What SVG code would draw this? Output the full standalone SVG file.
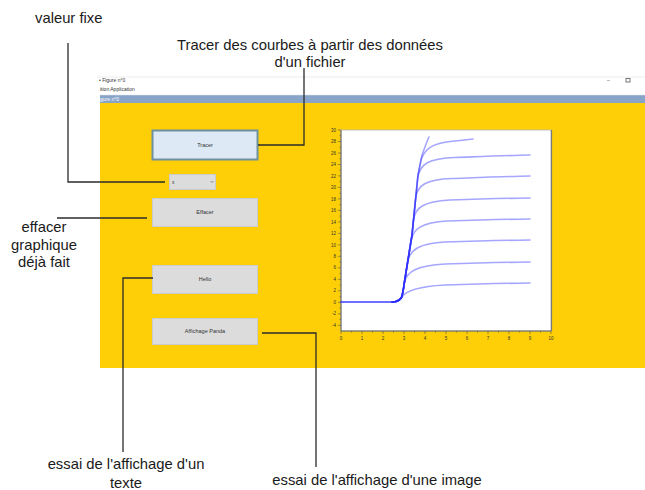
<svg xmlns="http://www.w3.org/2000/svg" width="645" height="490" viewBox="0 0 645 490">
<style>
.ann{font-family:"Liberation Sans",Arial,sans-serif;font-size:14.8px;fill:#1a1a1a}
.tiny{font-family:"Liberation Sans",Arial,sans-serif;font-size:5px;fill:#333}
.btn{fill:#dcdcdc;stroke:#cbcbcb;stroke-width:1}
.btxt{font-family:"Liberation Sans",Arial,sans-serif;font-size:5.5px;fill:#333;text-anchor:middle}
.conn{fill:none;stroke:#2b2b2b;stroke-width:1.3}
.crv{fill:none;stroke:#2a2aff;stroke-opacity:0.42;stroke-width:1.6;stroke-linejoin:round;stroke-linecap:round}
.ylab{font-family:"Liberation Sans",Arial,sans-serif;font-size:4.5px;fill:#333;text-anchor:end}
.xlab{font-family:"Liberation Sans",Arial,sans-serif;font-size:4.5px;fill:#333;text-anchor:middle}
</style>
<rect width="645" height="490" fill="#ffffff"/>
<g id="window">
  <line x1="97" y1="77" x2="645" y2="77" stroke="#ececec" stroke-width="1"/>
  <text x="99" y="82" class="tiny">• Figure n°0</text>
  <text x="100" y="91" class="tiny">ition  Application</text>
  <text x="607" y="82" class="tiny">–</text>
  <rect x="626" y="78.5" width="4" height="3.5" fill="none" stroke="#555" stroke-width="0.8"/>
  <rect x="100" y="95" width="545" height="8" fill="#88a4c9"/>
  <line x1="100" y1="95.3" x2="645" y2="95.3" stroke="#b8c6d8" stroke-width="0.6"/>
  <text x="100" y="101" class="tiny" style="fill:#ffffff">gure n°0</text>
  <rect x="100" y="103" width="545" height="265" fill="#fecf06"/>
</g>
<g id="btn-tracer">
  <rect x="152.5" y="130.5" width="105" height="29" fill="#dde9f5" stroke="#6e909f" stroke-width="2"/>
  <text x="205" y="147" class="btxt">Tracer</text>
</g>
<g id="combo">
  <rect x="169.5" y="174.5" width="46" height="15" class="btn"/>
  <text x="172" y="184" class="tiny">x</text>
  <path d="M210.5,181 L212,182.5 L213.5,181" fill="none" stroke="#555" stroke-width="0.6"/>
</g>
<g id="btn-effacer">
  <rect x="152.5" y="198.5" width="105" height="28" class="btn"/>
  <text x="205" y="214" class="btxt">Effacer</text>
</g>
<g id="btn-hello">
  <rect x="152.5" y="265.5" width="105" height="28" class="btn"/>
  <text x="205" y="281" class="btxt">Hello</text>
</g>
<g id="btn-panda">
  <rect x="152.5" y="318.5" width="105" height="26" class="btn"/>
  <text x="205" y="333" class="btxt">Affichage Panda</text>
</g>
<g id="plot">
  <rect x="341" y="130" width="210" height="201" fill="#ffffff" stroke="#b5b5b5" stroke-width="0.8"/>
  <line x1="551.5" y1="130" x2="551.5" y2="331" stroke="#7a7a7a" stroke-width="1.2"/>
  <path d="M341,130 V331 H551" fill="none" stroke="#555" stroke-width="0.9"/>
  <path fill="none" stroke="#555" stroke-width="0.6" d="M338,130 H341 M338,141.5 H341 M338,153 H341 M338,164.5 H341 M338,175.9 H341 M338,187.4 H341 M338,198.9 H341 M338,210.4 H341 M338,221.9 H341 M338,233.4 H341 M338,244.9 H341 M338,256.3 H341 M338,267.8 H341 M338,279.3 H341 M338,290.8 H341 M338,302.3 H341 M338,313.8 H341 M338,325.3 H341 M339.5,135.7 H341 M339.5,147.2 H341 M339.5,158.7 H341 M339.5,170.2 H341 M339.5,181.7 H341 M339.5,193.2 H341 M339.5,204.7 H341 M339.5,216.1 H341 M339.5,227.6 H341 M339.5,239.1 H341 M339.5,250.6 H341 M339.5,262.1 H341 M339.5,273.6 H341 M339.5,285.1 H341 M339.5,296.6 H341 M339.5,308 H341 M339.5,319.5 H341 M341,331 V334 M362,331 V334 M383,331 V334 M404,331 V334 M425,331 V334 M446,331 V334 M467,331 V334 M488,331 V334 M509,331 V334 M530,331 V334 M551,331 V334 M351.5,331 V332.5 M372.5,331 V332.5 M393.5,331 V332.5 M414.5,331 V332.5 M435.5,331 V332.5 M456.5,331 V332.5 M477.5,331 V332.5 M498.5,331 V332.5 M519.5,331 V332.5 M540.5,331 V332.5"/>
  <g>
    <text x="336" y="131.6" class="ylab">30</text>
    <text x="336" y="143.1" class="ylab">28</text>
    <text x="336" y="154.6" class="ylab">26</text>
    <text x="336" y="166.1" class="ylab">24</text>
    <text x="336" y="177.5" class="ylab">22</text>
    <text x="336" y="189" class="ylab">20</text>
    <text x="336" y="200.5" class="ylab">18</text>
    <text x="336" y="212" class="ylab">16</text>
    <text x="336" y="223.5" class="ylab">14</text>
    <text x="336" y="235" class="ylab">12</text>
    <text x="336" y="246.5" class="ylab">10</text>
    <text x="336" y="257.9" class="ylab">8</text>
    <text x="336" y="269.4" class="ylab">6</text>
    <text x="336" y="280.9" class="ylab">4</text>
    <text x="336" y="292.4" class="ylab">2</text>
    <text x="336" y="303.9" class="ylab">0</text>
    <text x="336" y="315.4" class="ylab">-2</text>
    <text x="336" y="326.9" class="ylab">-4</text>
  </g>
  <g>
    <text x="341" y="339.5" class="xlab">0</text>
    <text x="362" y="339.5" class="xlab">1</text>
    <text x="383" y="339.5" class="xlab">2</text>
    <text x="404" y="339.5" class="xlab">3</text>
    <text x="425" y="339.5" class="xlab">4</text>
    <text x="446" y="339.5" class="xlab">5</text>
    <text x="467" y="339.5" class="xlab">6</text>
    <text x="488" y="339.5" class="xlab">7</text>
    <text x="509" y="339.5" class="xlab">8</text>
    <text x="530" y="339.5" class="xlab">9</text>
    <text x="551" y="339.5" class="xlab">10</text>
  </g>
  <g id="curves">
    <path class="crv" d="M341,302 H392 C397,302 399.5,300.5 401.5,297.5 C405,291.5 417,286.5 445,285 C475,284 505,283.3 530,283"/>
    <path class="crv" d="M341,302 H392 C397,302 399.5,300.5 401.5,297.5 C403,293 403.5,289 404.3,283 C406.6,271 418,265.5 445,264 C475,263 505,262.3 530,262"/>
    <path class="crv" d="M341,302 H392 C397,302 399.5,300.5 401.5,297.5 C403,293 403.5,289 404.3,283 L407.6,262 C409.9,249 420,243.5 445,242 C475,241 505,240.3 530,240"/>
    <path class="crv" d="M392,302 C397,302 399.5,300.5 401.5,297.5 C403,293 403.5,289 404.3,283 L411,241 C413,228.5 422,222.5 447,221 C477,220 505,219.3 530,219"/>
    <path class="crv" d="M392,302 C397,302 399.5,300.5 401.5,297.5 C403,293 403.5,289 404.3,283 L412,235 L413.5,220 C415.2,207 424,201.5 450,200 C478,199 505,198.3 530,198"/>
    <path class="crv" d="M392,302 C397,302 399.5,300.5 401.5,297.5 C403,293 403.5,289 404.3,283 L412,235 L415.7,198 C417.4,185 426,179.5 452,178.5 C480,177.5 505,176.5 530,176"/>
    <path class="crv" d="M392,302 C397,302 399.5,300.5 401.5,297.5 C403,293 403.5,289 404.3,283 L412,235 L417.8,177 C420.6,164 428,158.5 455,157.5 C482,156.5 505,155.5 530,155"/>
    <path class="crv" d="M392,302 C397,302 399.5,300.5 401.5,297.5 C403,293 403.5,289 404.3,283 L412,235 L418,175 L421,160 C424.7,149 432,143.5 450,141.5 C460,140.6 467,139.8 473,139"/>
    <path class="crv" d="M392,302 C397,302 399.5,300.5 401.5,297.5 C403,293 403.5,289 404.3,283 L412,235 L418,175 L422,155 C425,147 427,141 429,137"/>
  </g>
</g>
<g id="connectors">
  <path class="conn" d="M68,43 V182 H165"/>
  <path class="conn" d="M304,68 V145 H258"/>
  <path class="conn" d="M57,218 H147"/>
  <path class="conn" d="M153,278 H123 V452"/>
  <path class="conn" d="M262,333 H316 V467"/>
</g>
<g id="labels">
  <text x="35" y="22.5" class="ann">valeur fixe</text>
  <text x="310" y="50" class="ann" text-anchor="middle">Tracer des courbes à partir des données</text>
  <text x="310" y="67" class="ann" text-anchor="middle">d'un fichier</text>
  <text x="44" y="232" class="ann" text-anchor="middle">effacer</text>
  <text x="44" y="249.5" class="ann" text-anchor="middle">graphique</text>
  <text x="44" y="267" class="ann" text-anchor="middle">déjà fait</text>
  <text x="126" y="469" class="ann" text-anchor="middle">essai de l'affichage d'un</text>
  <text x="126" y="487.5" class="ann" text-anchor="middle">texte</text>
  <text x="377" y="485" class="ann" text-anchor="middle">essai de l'affichage d'une image</text>
</g>
</svg>
